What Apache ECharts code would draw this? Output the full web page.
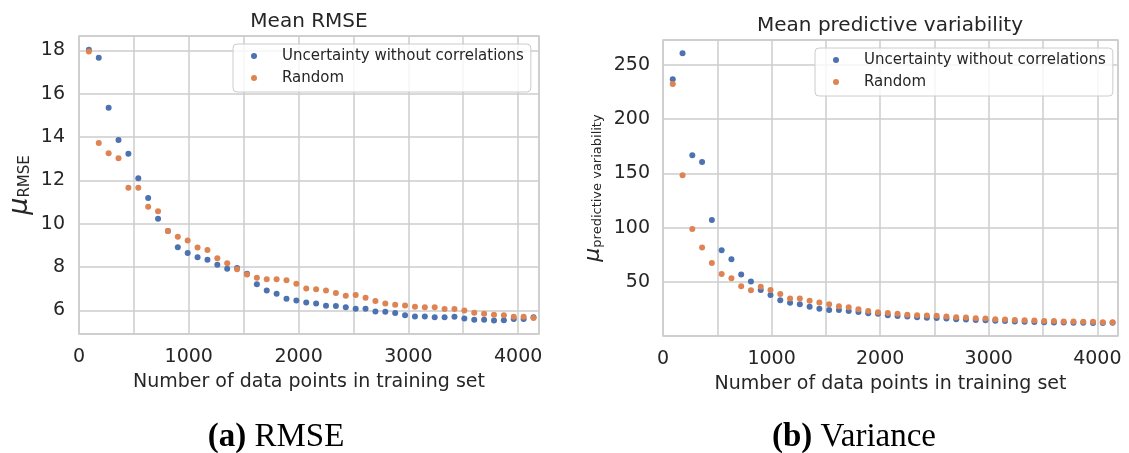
<!DOCTYPE html>
<html>
<head>
	<meta charset="utf-8">
	<title>RMSE and variance</title>
	<script src="https://cdn.jsdelivr.net/npm/echarts@6/dist/echarts.min.js"></script>
</head>
<body style="margin:0;background:#fff;">
	<div id="box" style="width:1129px;height:453px;"></div>
	<script type="text/javascript">
		// training set sizes (x)
		var trainSizes = [90, 180, 270, 360, 450, 540, 630, 720, 810, 900,
			990, 1080, 1170, 1260, 1350, 1440, 1530, 1620, 1710, 1800,
			1890, 1980, 2070, 2160, 2250, 2340, 2430, 2520, 2610, 2700,
			2790, 2880, 2970, 3060, 3150, 3240, 3330, 3420, 3510, 3600,
			3690, 3780, 3870, 3960, 4050, 4140]

		// (a) mean RMSE
		var rmseUncertainty = [18.03, 17.66, 15.35, 13.86, 13.23, 12.10, 11.18, 10.23, 9.66, 8.91,
			8.65, 8.45, 8.34, 8.11, 7.92, 7.95, 7.69, 7.20, 6.92, 6.77,
			6.54, 6.46, 6.36, 6.32, 6.21, 6.20, 6.15, 6.07, 6.07, 5.95,
			5.94, 5.88, 5.77, 5.72, 5.72, 5.68, 5.68, 5.71, 5.62, 5.57,
			5.57, 5.53, 5.55, 5.60, 5.60, 5.68]
		var rmseRandom = [17.94, 13.72, 13.25, 13.02, 11.66, 11.66, 10.78, 10.57, 9.66, 9.40,
			9.22, 8.90, 8.79, 8.40, 8.17, 7.90, 7.66, 7.50, 7.44, 7.44,
			7.39, 7.23, 7.01, 6.97, 6.92, 6.80, 6.68, 6.71, 6.58, 6.43,
			6.32, 6.26, 6.23, 6.17, 6.14, 6.14, 6.06, 6.06, 5.99, 5.89,
			5.85, 5.80, 5.77, 5.71, 5.71, 5.65]

		// (b) mean predictive variability
		var varUncertainty = [236.6, 260.5, 166.7, 160.6, 107.3, 79.4, 71.1, 57.0, 50.6, 42.9,
			38.2, 33.5, 31.0, 29.6, 27.3, 25.6, 24.5, 24.4, 23.4, 22.5,
			21.5, 20.9, 19.6, 19.0, 18.4, 17.8, 17.2, 17.0, 16.5, 16.0,
			15.7, 15.2, 14.9, 14.5, 14.2, 13.9, 13.6, 13.4, 13.2, 13.0,
			12.9, 12.7, 12.6, 12.5, 12.5, 12.6]
		var varRandom = [232.3, 148.3, 99.0, 81.8, 67.7, 57.6, 53.7, 46.2, 42.6, 45.8,
			42.9, 39.2, 34.9, 35.1, 33.0, 31.3, 29.6, 27.8, 27.0, 25.2,
			23.6, 22.4, 21.6, 20.9, 20.1, 19.7, 19.3, 19.2, 18.4, 17.8,
			17.5, 16.9, 16.5, 16.0, 15.6, 15.3, 15.0, 14.7, 14.4, 14.2,
			13.8, 13.8, 13.5, 13.5, 13.2, 13.2]

		var seriesNames = ['Uncertainty without correlations', 'Random']
		var colors = ['#4c72b0', '#dd8452']

		function pairs(ys) {
			return ys.map(function (y, i) { return [trainSizes[i], y] })
		}

		var ink = '#262626'
		var gridColor = '#cccccc'
		var font = 'DejaVu Sans'

		function xAxis(idx) {
			return {
				type: 'value', gridIndex: idx, min: 0, max: 4190, interval: 500,
				name: 'Number of data points in training set',
				nameLocation: 'middle', nameGap: 39,
				nameTextStyle: { fontSize: 19, color: ink, fontFamily: font },
				axisLine: { show: false }, axisTick: { show: false },
				axisLabel: {
					fontSize: 19, color: ink, fontFamily: font, margin: 14,
					formatter: function (v) { return v % 1000 === 0 ? String(v) : '' }
				},
				splitLine: { show: true, lineStyle: { color: gridColor, width: 1.5 } }
			}
		}

		function legend(left, top) {
			return {
				orient: 'vertical', left: left, top: top,
				data: seriesNames, icon: 'circle', itemWidth: 6, itemHeight: 6, itemGap: 4,
				backgroundColor: 'rgba(255,255,255,0.8)', borderColor: gridColor, borderWidth: 1,
				borderRadius: 4, padding: [3, 7, 5, 18],
				textStyle: { fontSize: 15, color: ink, fontFamily: font, lineHeight: 18, padding: [0, 0, 0, 20] }
			}
		}

		function dots(name, i, axis, ys) {
			return {
				name: name, type: 'scatter', xAxisIndex: axis, yAxisIndex: axis,
				data: pairs(ys), symbolSize: 6,
				itemStyle: { color: colors[i], opacity: 1 }
			}
		}

		var myChart = echarts.init(document.getElementById('box'))

		var option = {
			backgroundColor: '#ffffff',
			animation: false,
			textStyle: { fontFamily: font },
			grid: [
				{ left: 79, top: 36, width: 460, height: 298, show: true, borderColor: gridColor, borderWidth: 1.5 },
				{ left: 663, top: 40, width: 455, height: 296, show: true, borderColor: gridColor, borderWidth: 1.5 }
			],
			xAxis: [xAxis(0), xAxis(1)],
			yAxis: [
				{
					type: 'value', gridIndex: 0, min: 4.91, max: 18.66, minInterval: 2, maxInterval: 2,
					name: '{mu|μ}{sub|RMSE}', nameLocation: 'middle', nameRotate: 90, nameGap: 46,
					nameTextStyle: {
						rich: {
							mu: { fontSize: 27, fontStyle: 'italic', color: ink, fontFamily: font, lineHeight: 27 },
							sub: { fontSize: 15, color: ink, fontFamily: font, lineHeight: 21, verticalAlign: 'bottom' }
						}
					},
					axisLine: { show: false }, axisTick: { show: false },
					axisLabel: { fontSize: 19, color: ink, fontFamily: font, margin: 14, showMinLabel: false, showMaxLabel: false },
					splitLine: { show: true, lineStyle: { color: gridColor, width: 1.5 } }
				},
				{
					type: 'value', gridIndex: 1, min: 0.5, max: 272.8, minInterval: 50, maxInterval: 50,
					name: '{mu|μ}{sub|predictive variability}', nameLocation: 'middle', nameRotate: 90, nameGap: 59,
					nameTextStyle: {
						rich: {
							mu: { fontSize: 22, fontStyle: 'italic', color: ink, fontFamily: font, lineHeight: 22 },
							sub: { fontSize: 13, color: ink, fontFamily: font, lineHeight: 18, verticalAlign: 'bottom' }
						}
					},
					axisLine: { show: false }, axisTick: { show: false },
					axisLabel: { fontSize: 19, color: ink, fontFamily: font, margin: 13, showMinLabel: false, showMaxLabel: false },
					splitLine: { show: true, lineStyle: { color: gridColor, width: 1.5 } }
				}
			],
			legend: [legend(233, 44), legend(815, 48)],
			graphic: [
				{ type: 'text', x: 309, y: 22, style: { text: 'Mean RMSE', fill: ink, font: '20px "DejaVu Sans"', align: 'center', verticalAlign: 'middle' } },
				{ type: 'text', x: 890, y: 26, style: { text: 'Mean predictive variability', fill: ink, font: '20px "DejaVu Sans"', align: 'center', verticalAlign: 'middle' } },
				{
					type: 'text', x: 276, y: 437,
					style: {
						text: '{b|(a)} RMSE', fill: '#000', font: '33px "Liberation Serif"', align: 'center', verticalAlign: 'middle',
						rich: { b: { fontWeight: 'bold', fontSize: 33, fontFamily: 'Liberation Serif', fill: '#000' } }
					}
				},
				{
					type: 'text', x: 854, y: 437,
					style: {
						text: '{b|(b)} Variance', fill: '#000', font: '33px "Liberation Serif"', align: 'center', verticalAlign: 'middle',
						rich: { b: { fontWeight: 'bold', fontSize: 33, fontFamily: 'Liberation Serif', fill: '#000' } }
					}
				}
			],
			series: [
				dots(seriesNames[0], 0, 0, rmseUncertainty),
				dots(seriesNames[1], 1, 0, rmseRandom),
				dots(seriesNames[0], 0, 1, varUncertainty),
				dots(seriesNames[1], 1, 1, varRandom)
			]
		}

		myChart.setOption(option)
	</script>
</body>
</html>
